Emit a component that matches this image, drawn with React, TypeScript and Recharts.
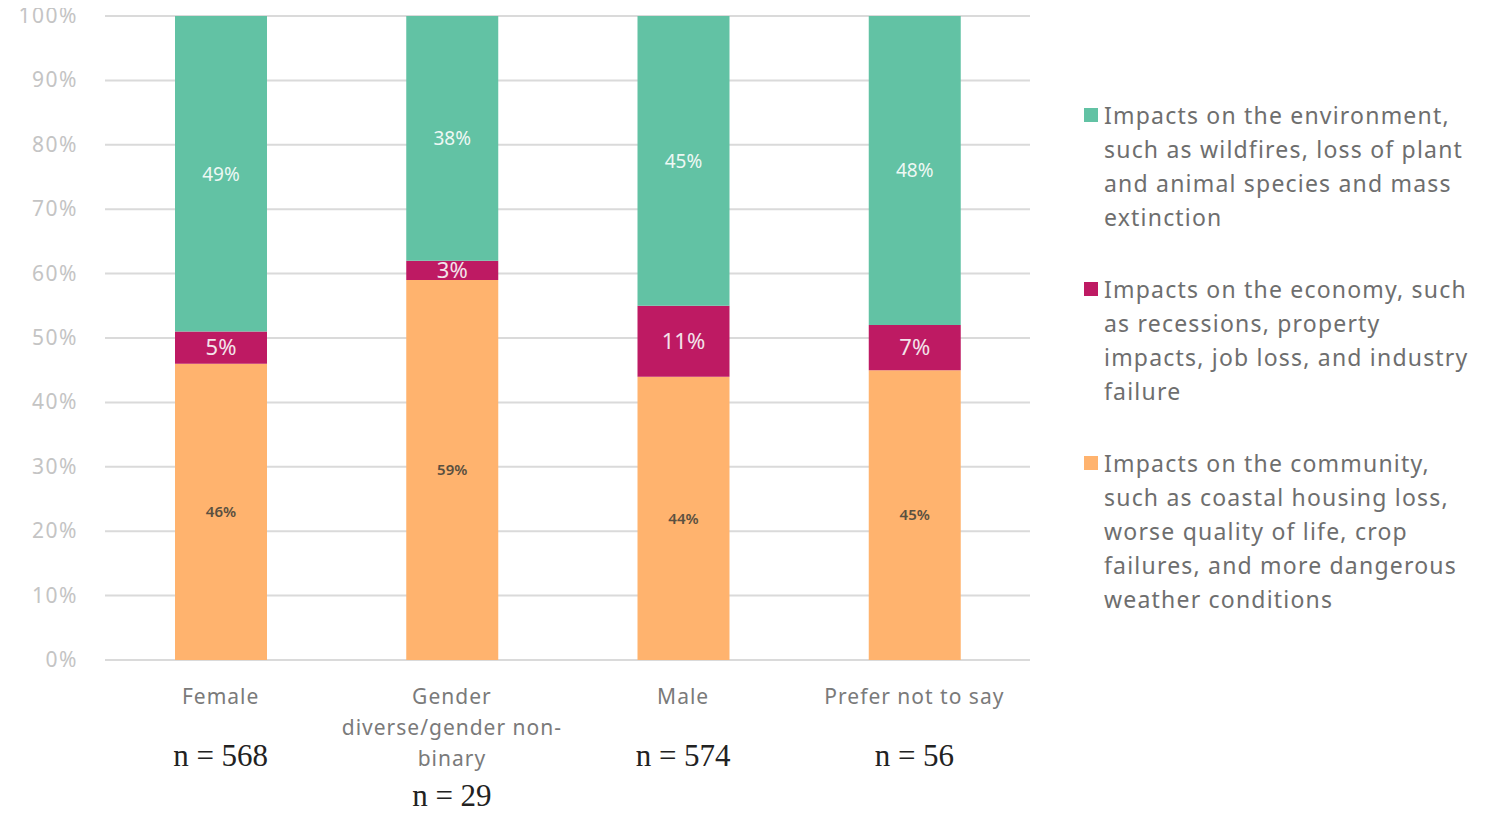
import React from 'react';
import { BarChart, Bar, XAxis, YAxis, CartesianGrid, LabelList } from 'recharts';

const categories = ['Female', 'Gender diverse/gender non-binary', 'Male', 'Prefer not to say'];
const sampleSizes = ['n = 568', 'n = 29', 'n = 574', 'n = 56'];
const communityValues = [46, 59, 44, 45];
const economyValues = [5, 3, 11, 7];
const environmentValues = [49, 38, 45, 48];
const yTicks = [0, 10, 20, 30, 40, 50, 60, 70, 80, 90, 100];

const legendLines: { [key: string]: string[] } = {
  environment: ['Impacts on the environment,', 'such as wildfires, loss of plant', 'and animal species and mass', 'extinction'],
  economy: ['Impacts on the economy, such', 'as recessions, property', 'impacts, job loss, and industry', 'failure'],
  community: ['Impacts on the community,', 'such as coastal housing loss,', 'worse quality of life, crop', 'failures, and more dangerous', 'weather conditions'],
};
const legendOrder = ['environment', 'economy', 'community'];

// x tick label lines are split by hand to match the source wrapping
const tickLines: { [key: string]: string[] } = {
  Female: ['Female'],
  'Gender diverse/gender non-binary': ['Gender', 'diverse/gender non-', 'binary'],
  Male: ['Male'],
  'Prefer not to say': ['Prefer not to say'],
};

const data = categories.map((c, i) => ({
  name: c,
  n: sampleSizes[i],
  community: communityValues[i],
  economy: economyValues[i],
  environment: environmentValues[i],
}));

const COLORS: { [key: string]: string } = { environment: '#62C2A4', economy: '#BE1A63', community: '#FFB36E' };
const SANS = '"Noto Sans", "Open Sans", sans-serif';

const XTick = (props: any) => {
  const { x, y, payload, index } = props;
  const lines = tickLines[payload.value] || [payload.value];
  const lastY = 44 + (lines.length - 1) * 31;
  const nY = lines.length === 1 ? 106 : lastY + 40;
  return (
    <g transform={`translate(${x},${y})`}>
      {lines.map((l: string, i: number) => (
        <text key={i} x={0} y={44 + i * 31} textAnchor="middle" fill="#7a7a7a" fontSize={21} letterSpacing={1} fontFamily={SANS}>
          {l}
        </text>
      ))}
      <text x={0} y={nY} textAnchor="middle" fill="#222" fontSize={31} fontFamily='"Liberation Serif", serif'>
        {sampleSizes[index]}
      </text>
    </g>
  );
};

const YTick = (props: any) => {
  const { x, y, payload } = props;
  return (
    <text x={x - 19} y={y} dy={7} textAnchor="end" fill="#c4c4c4" fontSize={21} letterSpacing={1.5} fontFamily={SANS}>
      {payload.value}%
    </text>
  );
};

const App: React.FC = () => {
  return (
    <div style={{ width: 1478, height: 821, position: 'relative', marginTop: -8, marginLeft: -8 }}>
      <BarChart width={1040} height={821} data={data} margin={{ top: 16, right: 10, left: 8, bottom: 11 }}>
        <CartesianGrid vertical={false} stroke="#dadada" strokeWidth={2} />
        <XAxis dataKey="name" axisLine={false} tickLine={false} tickSize={0} tickMargin={0} height={150} interval={0} tick={<XTick />} />
        <YAxis domain={[0, 100]} ticks={yTicks} width={97} axisLine={false} tickLine={false} tick={<YTick />} />
        <Bar dataKey="community" stackId="a" fill={COLORS.community} barSize={92} isAnimationActive={false}>
          <LabelList dataKey="community" position="center" formatter={(v: any) => `${v}%`} fill="#5a5040" fontSize={15} fontWeight={600} fontFamily={SANS} />
        </Bar>
        <Bar dataKey="economy" stackId="a" fill={COLORS.economy} barSize={92} isAnimationActive={false}>
          <LabelList dataKey="economy" position="center" formatter={(v: any) => `${v}%`} fill="#f3e3ea" fontSize={22} fontFamily={SANS} />
        </Bar>
        <Bar dataKey="environment" stackId="a" fill={COLORS.environment} barSize={92} isAnimationActive={false}>
          <LabelList dataKey="environment" position="center" formatter={(v: any) => `${v}%`} fill="#eef8f4" fontSize={19} fontFamily={SANS} />
        </Bar>
      </BarChart>
      <div style={{ position: 'absolute', left: 1084, top: 98, fontFamily: SANS, fontSize: 23, letterSpacing: 1.2, color: '#6e6e6e', lineHeight: '34px' }}>
        {legendOrder.map((k) => (
          <div key={k} style={{ display: 'flex', marginBottom: 38 }}>
            <div style={{ width: 14, height: 14, background: COLORS[k], marginTop: 10, marginRight: 6, flexShrink: 0 }} />
            <div>
              {legendLines[k].map((l, i) => (
                <div key={i} style={{ whiteSpace: 'nowrap' }}>{l}</div>
              ))}
            </div>
          </div>
        ))}
      </div>
    </div>
  );
};

export default App;
